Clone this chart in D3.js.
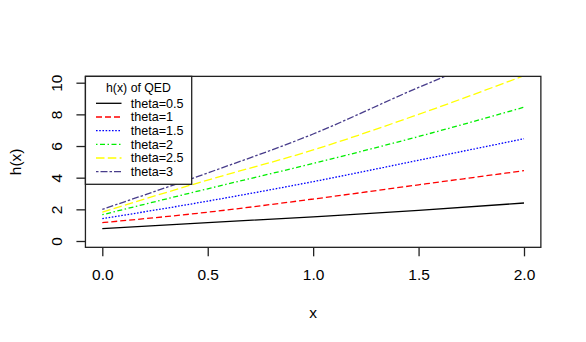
<!DOCTYPE html>
<html>
<head>
<meta charset="utf-8">
<script src="https://cdn.jsdelivr.net/npm/d3@7"></script>
<style>
  html, body { margin: 0; padding: 0; background: #fff; }
  svg { display: block; }
  text { font-family: "Liberation Sans", Arial, sans-serif; fill: #000; }
</style>
</head>
<body>
<div id="chart"></div>
<script>
// ---- data ----
const xValues = [0, 0.5, 1.0, 1.5, 2.0];
const theta05 = [0.78, 1.16, 1.53, 1.93, 2.40];
const theta1  = [1.16, 1.82, 2.65, 3.55, 4.44];
const theta15 = [1.41, 2.52, 3.75, 5.10, 6.46];
const theta2  = [1.66, 3.30, 4.90, 6.60, 8.45];
const theta25 = [1.83, 3.85, 5.75, 8.00, 10.44];
const theta3  = [2.00, 4.30, 6.76, 9.70, 12.40];
const seriesNames = ["theta=0.5", "theta=1", "theta=1.5", "theta=2", "theta=2.5", "theta=3"];
const xTicks = [0, 0.5, 1.0, 1.5, 2.0];
const yTicks = [0, 2, 4, 6, 8, 10];
const legendTitle = "h(x) of QED";
const xLabel = "x";
const yLabel = "h(x)";

const seriesValues = [theta05, theta1, theta15, theta2, theta25, theta3];
const colors = ["#000000", "#ff0000", "#0000ff", "#00ee00", "#ffff00", "#483d8b"];
const dashes = [null, "6,3", "1.6,1.6", "1.5,2.5,5,2.5", "8.5,3.3", "2.5,2,7,2"];

const W = 586, H = 342;
const svg = d3.select("#chart").append("svg").attr("width", W).attr("height", H);
svg.append("rect").attr("width", W).attr("height", H).attr("fill", "#fff");

const x = d3.scaleLinear().domain([0, 2]).range([102.3, 524]);
const y = d3.scaleLinear().domain([0, 10]).range([241, 82.7]);

const bx0 = x(-0.08), bx1 = x(2.08), by0 = y(10.4), by1 = y(-0.4);

svg.append("clipPath").attr("id", "clip")
  .append("rect").attr("x", bx0).attr("y", by0).attr("width", bx1 - bx0).attr("height", by1 - by0);

// lines
const line = d3.line().x((d, i) => x(xValues[i])).y(d => y(d)).curve(d3.curveMonotoneX);
const g = svg.append("g").attr("clip-path", "url(#clip)");
seriesValues.forEach((vals, i) => {
  g.append("path").datum(vals).attr("d", line)
    .attr("fill", "none").attr("stroke", colors[i]).attr("stroke-width", 1.3)
    .attr("stroke-dasharray", dashes[i]);
});

// box
svg.append("rect").attr("x", bx0).attr("y", by0).attr("width", bx1 - bx0).attr("height", by1 - by0)
  .attr("fill", "none").attr("stroke", "#222").attr("stroke-width", 1.3);

// x axis
const xAxis = d3.axisBottom(x).tickValues(xTicks).tickFormat(d3.format(".1f")).tickSize(9).tickPadding(13);
const gx = svg.append("g").attr("transform", `translate(0,${by1})`).call(xAxis);
gx.select(".domain").remove();
gx.selectAll(".tick line").attr("stroke", "#222").attr("stroke-width", 1.3);
gx.selectAll(".tick text").attr("font-size", 15.5).attr("font-family", "Liberation Sans, Arial, sans-serif").attr("fill", "#000");

// y axis
const yAxis = d3.axisLeft(y).tickValues(yTicks).tickFormat(d3.format("d")).tickSize(9).tickPadding(0);
const gy = svg.append("g").attr("transform", `translate(${bx0},0)`).call(yAxis);
gy.select(".domain").remove();
gy.selectAll(".tick line").attr("stroke", "#222").attr("stroke-width", 1.3);
gy.selectAll(".tick text")
  .attr("font-size", 15.5).attr("font-family", "Liberation Sans, Arial, sans-serif").attr("fill", "#000")
  .attr("x", null).attr("dy", null)
  .attr("text-anchor", "middle")
  .attr("transform", `translate(${61.5 - bx0},0) rotate(-90)`);

// axis titles
svg.append("text").attr("x", (bx0 + bx1) / 2).attr("y", 317.5).attr("text-anchor", "middle")
  .attr("font-size", 15.5).text(xLabel);
svg.append("text").attr("transform", `translate(20.5,${(by0 + by1) / 2}) rotate(-90)`)
  .attr("text-anchor", "middle").attr("font-size", 15.5).text(yLabel);

// legend
const lx0 = bx0, ly0 = by0, lx1 = 191.7, ly1 = 184.3;
svg.append("rect").attr("x", lx0).attr("y", ly0).attr("width", lx1 - lx0).attr("height", ly1 - ly0)
  .attr("fill", "#fff").attr("stroke", "#222").attr("stroke-width", 1.3);
svg.append("text").attr("x", 138.5).attr("y", 92.3).attr("text-anchor", "middle")
  .attr("font-size", 12.3).text(legendTitle);
seriesNames.forEach((name, i) => {
  const ry = 103.3 + i * 13.68;
  svg.append("line").attr("x1", 96).attr("x2", 121.5).attr("y1", ry).attr("y2", ry)
    .attr("stroke", colors[i]).attr("stroke-width", 1.3).attr("stroke-dasharray", dashes[i]);
  svg.append("text").attr("x", 130.7).attr("y", ry + 4.3).attr("font-size", 12.6).text(name);
});
</script>
</body>
</html>
